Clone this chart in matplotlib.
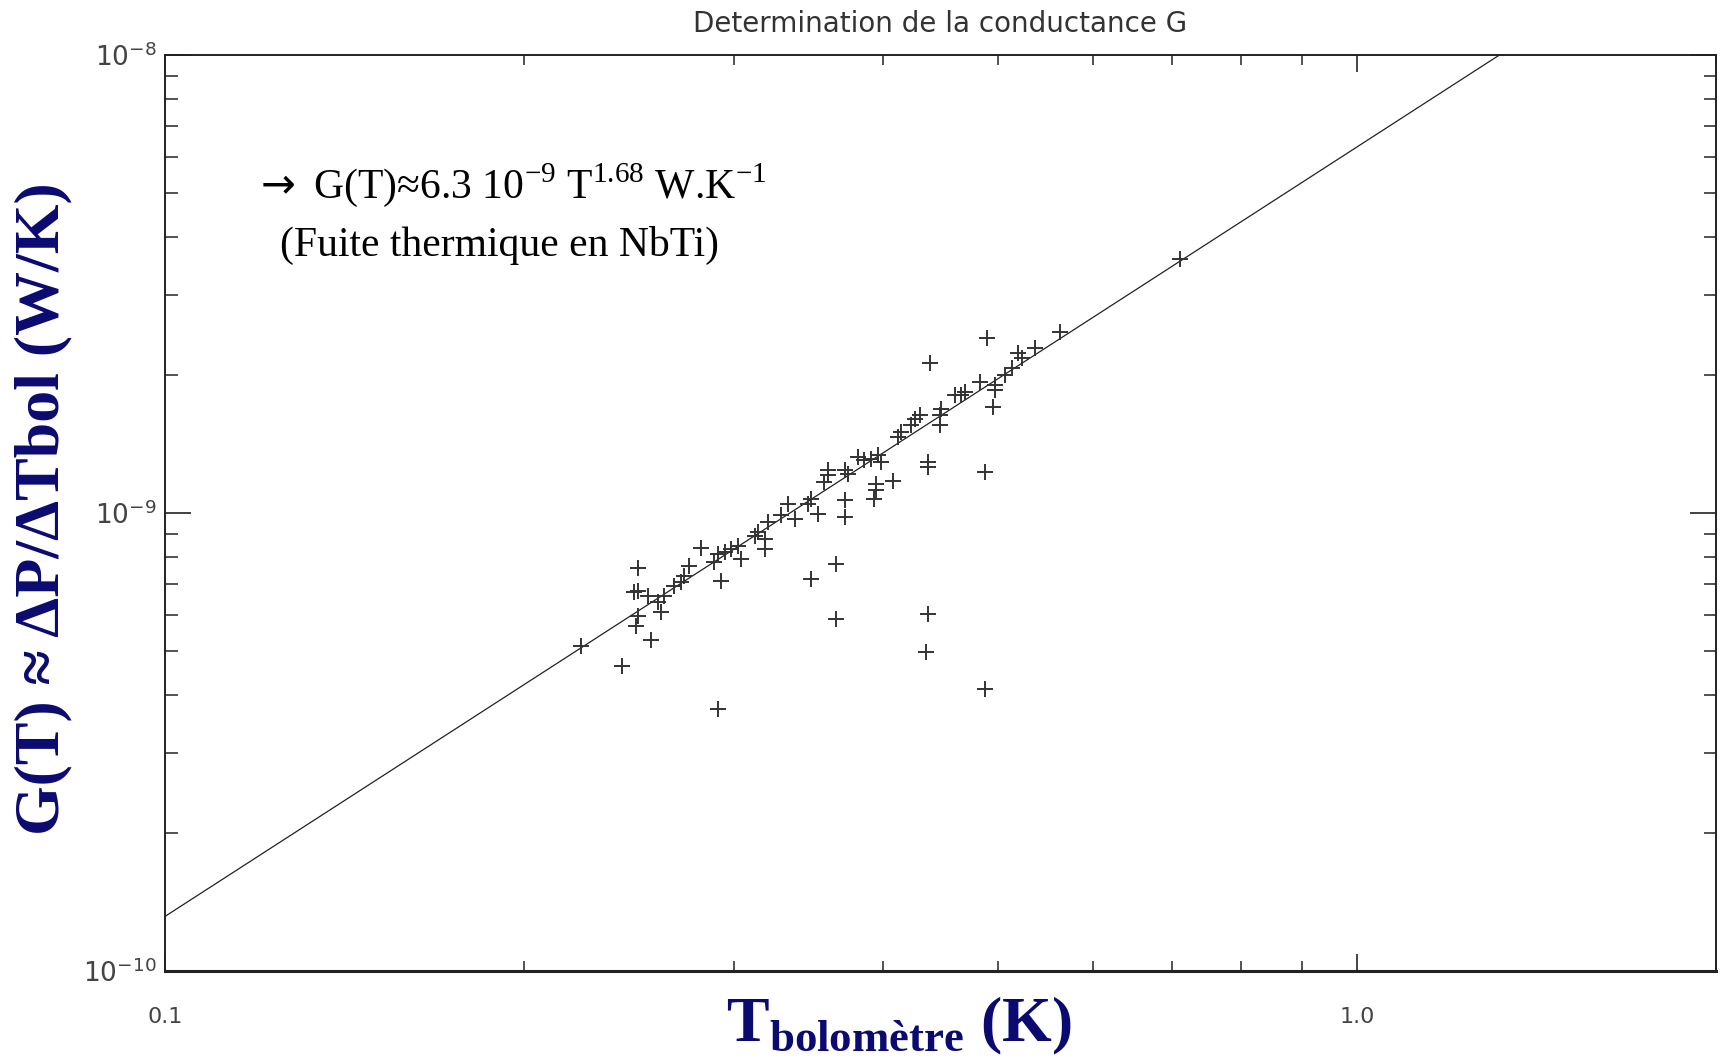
"""
Determination de la conductance G : G(T) en fonction de T bolometre (log-log),
points mesures + ajustement en loi de puissance.
"""

import matplotlib

matplotlib.use("Agg")
import matplotlib.pyplot as plt
import matplotlib.ticker as mticker
import numpy as np

T_meas = [
    0.2233, 0.2419, 0.2556, 0.2491, 0.2483, 0.2491, 0.2491, 0.2475, 0.2540, 0.2590,
    0.2607, 0.2623, 0.2675, 0.2710, 0.2754, 0.2727, 0.2817, 0.2909, 0.2890, 0.2928,
    0.2947, 0.2985, 0.3024, 0.3044, 0.3123, 0.3144, 0.3184, 0.3184, 0.3205, 0.3288,
    0.3331, 0.3374, 0.3462, 0.3485, 0.3530, 0.3485, 0.3598, 0.3598, 0.3574, 0.3716,
    0.3741, 0.3657, 0.3657, 0.3716, 0.3716, 0.3813, 0.3862, 0.3912, 0.3964, 0.3989,
    0.3951, 0.3951, 0.3937, 0.4080, 0.4120, 0.4146, 0.4227, 0.4254, 0.4296, 0.4366,
    0.4366, 0.4380, 0.4352, 0.4366, 0.4467, 0.4467, 0.4481, 0.4598, 0.4658, 0.4688,
    0.4827, 0.4890, 0.4873, 0.4873, 0.4968, 0.4968, 0.4952, 0.5066, 0.5132, 0.5198,
    0.5232, 0.5367, 0.5634, 0.7101, 0.2909,
]
G_meas = [
    0.513, 0.463, 0.527, 0.597, 0.568, 0.758, 0.677, 0.672, 0.660, 0.639,
    0.607, 0.660, 0.694, 0.706, 0.768, 0.730, 0.838, 0.815, 0.781, 0.709,
    0.822, 0.835, 0.849, 0.794, 0.893, 0.909, 0.879, 0.835, 0.956, 0.988,
    1.048, 0.972, 1.048, 1.075, 0.997, 0.718, 1.240, 1.208, 1.169, 1.240,
    1.218, 0.775, 0.587, 1.066, 0.980, 1.326, 1.304, 1.315, 1.336, 1.293,
    1.159, 1.121, 1.075, 1.173, 1.466, 1.504, 1.554, 1.608, 1.635, 1.293,
    1.260, 2.121, 0.497, 0.602, 1.554, 1.635, 1.691, 1.808, 1.808, 1.839,
    1.934, 2.406, 1.229, 0.413, 1.901, 1.854, 1.705, 2.000, 2.069, 2.232,
    2.176, 2.288, 2.488, 3.590, 0.373,
]

# Ajustement : G(T) = G0 * T^n
G0 = 6.3e-9
n_exp = 1.68
T_range = (0.1, 2.0)
G_range = (1e-10, 1e-8)

x_ticks = [0.1, 1.0]
x_tick_labels = ["0.1", "1.0"]
y_ticks = [1e-10, 1e-9, 1e-8]
y_tick_labels = [r"$\mathregular{10^{-10}}$", r"$\mathregular{10^{-9}}$", r"$\mathregular{10^{-8}}$"]

navy = "#0a0a70"

fig = plt.figure(figsize=(17.23, 10.61), dpi=100)
ax = fig.add_axes([0.0958, 0.0848, 0.900, 0.8633])

# Fit line
T_fit = np.geomspace(T_range[0], T_range[1], 200)
ax.plot(T_fit, G0 * T_fit**n_exp, color="#222222", lw=0.9, zorder=2)

# Measured points
ax.plot(
    T_meas,
    np.array(G_meas) * 1e-9,
    linestyle="none",
    marker="+",
    markersize=11,
    markeredgewidth=1.4,
    color="#333333",
    zorder=3,
)

ax.set_xscale("log")
ax.set_yscale("log")
ax.set_xlim(*T_range)
ax.set_ylim(*G_range)

ax.set_xticks(x_ticks, x_tick_labels)
ax.set_yticks(y_ticks, y_tick_labels)
ax.xaxis.set_minor_locator(mticker.LogLocator(base=10, subs=np.arange(2, 10)))
ax.yaxis.set_minor_locator(mticker.LogLocator(base=10, subs=np.arange(2, 10)))
ax.xaxis.set_minor_formatter(mticker.NullFormatter())
ax.yaxis.set_minor_formatter(mticker.NullFormatter())

ax.tick_params(which="both", direction="in", top=True, right=True, color="#222222")
ax.tick_params(axis="y", which="major", length=19, width=1.2, labelsize=19,
               labelcolor="#444444", pad=6)
ax.tick_params(axis="y", which="minor", length=9, width=1.1)
ax.tick_params(axis="x", which="major", length=12, width=1.2, labelsize=16,
               labelcolor="#444444", pad=26)
ax.tick_params(axis="x", which="minor", length=7, width=1.1)

for side in ["left", "right", "top", "bottom"]:
    ax.spines[side].set_linewidth(1.4)
    ax.spines[side].set_color("#222222")
ax.spines["bottom"].set_linewidth(2.2)

# Title
fig.text(0.5455, 0.977, "Determination de la conductance G", ha="center", va="center",
         fontsize=20, color="#333333")

# Annotation
ax.text(0.0560, 0.844,
        r"$\rightarrow$ G(T)≈6.3 10$^{\mathregular{-9}}$ T$^{\mathregular{1.68}}$ W.K$^{\mathregular{-1}}$",
        transform=ax.transAxes, ha="left", va="baseline",
        fontsize=30, family="Liberation Serif", color="black")
ax.text(0.0741, 0.781, "(Fuite thermique en NbTi)",
        transform=ax.transAxes, ha="left", va="baseline",
        fontsize=30, family="Liberation Serif", color="black")

# Axis labels
fig.text(0.522, 0.018, r"T$_{\mathregular{bolomètre}}$ (K)", ha="center", va="baseline",
         fontsize=46, family="Liberation Serif", fontweight="bold", color=navy)
fig.text(0.025, 0.521, "G(T) ≈ ΔP/ΔTbol (W/K)", ha="center", va="center", rotation=90,
         fontsize=46, family="Liberation Serif", fontweight="bold", color=navy)

fig.savefig("out.png", dpi=100, facecolor="white")
